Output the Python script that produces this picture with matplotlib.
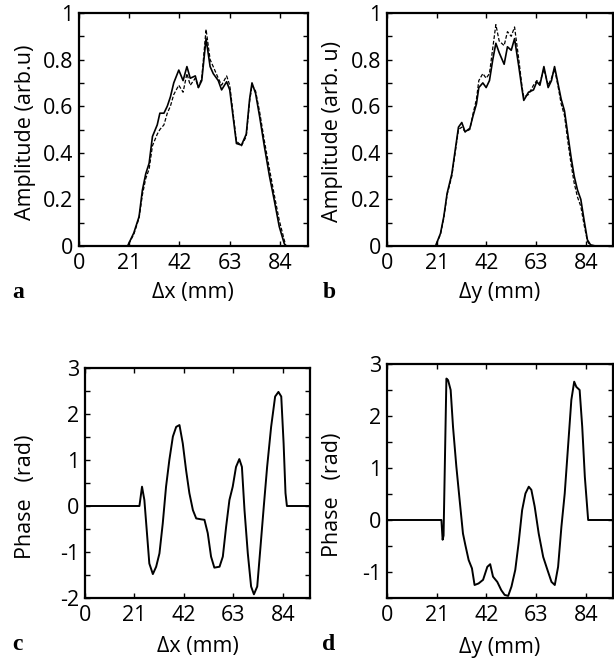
import numpy as np
from matplotlib import pyplot as plt

plt.rcParams['font.family'] = ['Open Sans', 'DejaVu Sans']
plt.rcParams['font.size'] = 15.5
plt.rcParams['axes.unicode_minus'] = False

# Amplitude langs x (panel a)
xa = [0, 20.3, 22.9, 25.1, 26.5, 27.9, 29.3, 30.7, 32.7, 33.8, 35.5, 36.9, 38.2, 39.6,
      41.7, 43.5, 45.1, 46.5, 48.6, 49.9, 51.3, 53.1, 54.8, 56.1, 58.2, 59.6, 61.7,
      63.0, 64.4, 65.8, 67.9, 69.9, 71.3, 72.3, 73.8, 75.5, 77.5, 79.6, 81.6, 83.7,
      85.8, 86.5, 95.5]
amp_a = [0, 0, 0.056, 0.126, 0.24, 0.31, 0.355, 0.47, 0.52, 0.57, 0.57, 0.60, 0.64, 0.70,
         0.755, 0.71, 0.77, 0.72, 0.73, 0.68, 0.71, 0.89, 0.77, 0.74, 0.71, 0.67, 0.705,
         0.67, 0.555, 0.44, 0.433, 0.48, 0.63, 0.70, 0.655, 0.555, 0.426, 0.30, 0.197, 0.083,
         0.01, 0, 0]
amp_a_dash = [0, 0, 0.05, 0.12, 0.22, 0.29, 0.33, 0.43, 0.48, 0.50, 0.52, 0.57, 0.60, 0.65,
              0.69, 0.66, 0.74, 0.69, 0.72, 0.68, 0.72, 0.93, 0.80, 0.77, 0.72, 0.69, 0.73,
              0.69, 0.57, 0.45, 0.43, 0.47, 0.62, 0.69, 0.665, 0.575, 0.45, 0.33, 0.22, 0.11,
              0.025, 0, 0]

# Amplitude langs y (panel b)
xb = [0, 20.5, 22.6, 24.0, 25.4, 27.4, 28.8, 30.2, 31.6, 33.0, 35.0, 36.4, 37.8, 38.8,
      40.5, 41.9, 43.3, 44.7, 46.0, 47.4, 49.5, 50.9, 52.5, 53.9, 55.7, 57.1, 57.8, 59.8,
      61.9, 63.3, 64.6, 66.3, 68.1, 69.5, 70.8, 72.2, 73.6, 75.0, 76.4, 77.8, 79.1, 80.5,
      81.9, 83.3, 84.7, 86.0, 88.1, 95.5]
amp_b = [0, 0, 0.054, 0.126, 0.226, 0.31, 0.41, 0.51, 0.53, 0.49, 0.505, 0.56, 0.61, 0.68,
         0.70, 0.68, 0.71, 0.80, 0.87, 0.83, 0.78, 0.855, 0.84, 0.89, 0.77, 0.67, 0.625, 0.66,
         0.67, 0.705, 0.69, 0.77, 0.68, 0.71, 0.77, 0.70, 0.63, 0.58, 0.48, 0.38, 0.30, 0.24,
         0.20, 0.11, 0.026, 0.005, 0, 0]
amp_b_dash = [0, 0, 0.05, 0.12, 0.22, 0.30, 0.40, 0.50, 0.51, 0.49, 0.50, 0.57, 0.63, 0.71,
              0.74, 0.72, 0.74, 0.85, 0.95, 0.88, 0.86, 0.92, 0.90, 0.94, 0.80, 0.68, 0.64, 0.65,
              0.69, 0.71, 0.70, 0.76, 0.69, 0.72, 0.76, 0.69, 0.61, 0.56, 0.45, 0.35, 0.27, 0.21,
              0.17, 0.09, 0.02, 0, 0, 0]

# Fase langs x (panel c)
xc = [0, 23.1, 24.2, 25.2, 26.3, 27.3, 28.8, 30.2, 31.6, 33.0, 34.4, 35.8, 37.3, 38.7,
      40.1, 41.5, 42.9, 44.3, 45.8, 47.2, 49.3, 50.7, 52.1, 53.5, 54.9, 57.1, 58.5, 59.9,
      61.3, 62.7, 64.1, 65.5, 66.6, 67.7, 69.1, 70.5, 71.7, 73.1, 74.5, 75.9, 77.3, 79.0,
      80.7, 82.1, 83.3, 84.3, 85.1, 85.7, 95.5]
phase_c = [0, 0, 0.42, 0.13, -0.59, -1.25, -1.48, -1.32, -1.03, -0.38, 0.42, 1.0, 1.51, 1.72,
           1.76, 1.36, 0.78, 0.28, -0.09, -0.27, -0.29, -0.30, -0.59, -1.10, -1.34, -1.32,
           -1.10, -0.45, 0.13, 0.42, 0.85, 1.02, 0.85, -0.09, -1.03, -1.75, -1.92, -1.75, -0.88,
           0, 0.85, 1.72, 2.38, 2.48, 2.38, 1.36, 0.28, 0, 0]

# Fase langs y (panel d)
xd = [0, 23.0, 23.5, 23.9, 25.1, 25.8, 26.9, 27.9, 29.3, 30.7, 32.1, 33.1, 34.5, 35.9,
      37.0, 38.7, 40.6, 42.4, 43.6, 44.8, 46.6, 48.3, 49.7, 51.2, 52.6, 54.2, 55.6, 57.1,
      58.5, 59.9, 61.0, 62.4, 64.1, 66.0, 67.8, 69.5, 70.9, 72.3, 73.7, 75.1, 76.5, 77.9,
      79.1, 80.0, 81.4, 82.5, 83.6, 85.0, 95.5]
phase_d = [0, 0, -0.38, -0.3, 2.72, 2.69, 2.5, 1.79, 1.03, 0.38, -0.26, -0.48, -0.77, -0.93,
           -1.25, -1.22, -1.15, -0.90, -0.85, -1.09, -1.19, -1.35, -1.44, -1.46, -1.28, -0.96,
           -0.45, 0.19, 0.51, 0.64, 0.58, 0.26, -0.26, -0.71, -0.96, -1.19, -1.25, -0.90, -0.13,
           0.51, 1.41, 2.31, 2.66, 2.56, 2.5, 1.79, 0.83, 0, 0]

xticks = [0, 21, 42, 63, 84]
amp_ticks = [0, 0.2, 0.4, 0.6, 0.8, 1]
amp_labels = ['0', '0.2', '0.4', '0.6', '0.8', '1']

fig = plt.figure(figsize=(6.14, 6.59), dpi=100)
W, H = 614, 659


# Lager akser ut fra pikselkanter
def lag_akse(venstre, hoyre, topp, bunn):
    return fig.add_axes([venstre / W, (H - bunn) / H, (hoyre - venstre) / W, (bunn - topp) / H])


def stil(ax, ylim, major, labels, minor, xlabel, ylabel, ylab_x, ylab_y, xlab_y):
    ax.set_xlim(0, 95.5)
    ax.set_ylim(*ylim)
    ax.set_xticks(xticks)
    ax.set_xticklabels([str(t) for t in xticks])
    ax.set_yticks(major)
    ax.set_yticklabels(labels)
    ax.set_yticks(minor, minor=True)
    ax.tick_params(which='both', direction='in', top=True, right=True,
                   length=3.5, width=1)
    ax.tick_params(axis='x', pad=5)
    ax.tick_params(axis='y', pad=4)
    for s in ax.spines.values():
        s.set_linewidth(1.6)
    ax.set_xlabel(xlabel)
    ax.set_ylabel(ylabel)
    ax.xaxis.set_label_coords(0.5, xlab_y)
    ax.yaxis.set_label_coords(ylab_x, ylab_y)


ax_a = lag_akse(79, 307.5, 13, 246)
ax_a.plot(xa, amp_a, color='k', lw=1.2)
ax_a.plot(xa, amp_a_dash, color='k', lw=0.9, ls=(0, (3, 1.5)))
stil(ax_a, (0, 1), amp_ticks, amp_labels, np.arange(0, 1.01, 0.1),
     '\u0394x (mm)', 'Amplitude (arb.u)', -0.19, 0.49, -0.155)

ax_b = lag_akse(387, 613, 13, 246)
ax_b.plot(xb, amp_b, color='k', lw=1.2)
ax_b.plot(xb, amp_b_dash, color='k', lw=0.9, ls=(0, (3, 1.5)))
stil(ax_b, (0, 1), amp_ticks, amp_labels, np.arange(0, 1.01, 0.1),
     '\u0394y (mm)', 'Amplitude (arb. u)', -0.195, 0.49, -0.155)

ax_c = lag_akse(85, 310, 368, 598)
ax_c.plot(xc, phase_c, color='k', lw=1.4)
stil(ax_c, (-2, 3), [3, 2, 1, 0, -1, -2], ['3', '2', '1', '0', '-1', '-2'],
     np.arange(-2, 3.01, 0.5), '\u0394x (mm)', 'Phase   (rad)', -0.218, 0.44, -0.165)

ax_d = lag_akse(387, 613, 364, 598)
ax_d.plot(xd, phase_d, color='k', lw=1.4)
stil(ax_d, (-1.5, 3), [3, 2, 1, 0, -1], ['3', '2', '1', '0', '-1'],
     np.arange(-1.5, 3.01, 0.5), '\u0394y (mm)', 'Phase   (rad)', -0.195, 0.44, -0.165)

# Bokstaver for delfigurene
for bokstav, px, py in [('a', 18, 293), ('b', 329, 293), ('c', 17, 645), ('d', 329, 645)]:
    fig.text(px / W, 1 - py / H, bokstav, family='Liberation Serif', weight='bold',
             fontsize=17, ha='center', va='center')

fig.savefig('out.png', dpi=100)
